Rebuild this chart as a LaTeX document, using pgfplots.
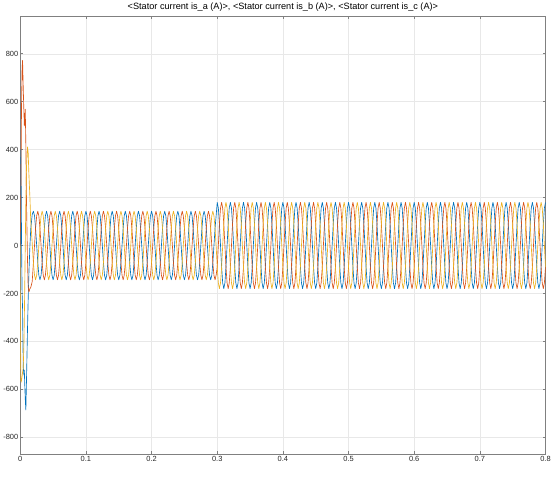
\documentclass[border=0pt]{standalone}
\usepackage{fontspec}
\setmainfont{Liberation Sans}
\usepackage{pgfplots}
\usepackage{pgfplotstable}
\pgfplotsset{compat=1.18}
\definecolor{mblue}{rgb}{0,0.447,0.741}
\definecolor{mred}{rgb}{0.851,0.325,0.098}
\definecolor{myellow}{rgb}{0.929,0.694,0.125}
\pgfplotstableread{
t a b c
0.0000 0 0 0
0.0005 300 120 -420
0.0010 400 250 -560
0.0015 200 450 -570
0.0020 0 600 -560
0.0028 -200 740 -545
0.0035 -260 772 -530
0.0045 -505 660 -510
0.0055 -540 560 -420
0.0062 -520 499 -300
0.0066 -560 510 -220
0.0076 -640 569 0
0.0085 -686 420 180
0.0095 -560 180 330
0.0110 -350 -60 411
0.0120 -230 -170 390
0.0131 -120 -194 300
0.0147 0 -180 200
0.0160 70 -175 100
0.0182 130 -150 10
0.0200 143 -72 -72
0.0217 124 0 -124
0.0233 72 72 -143
0.0250 0 124 -124
0.0267 -72 143 -72
0.0283 -124 124 0
0.0300 -143 72 72
0.0317 -124 0 124
0.0333 -72 -72 143
0.0350 0 -124 124
0.0367 72 -143 72
0.0383 124 -124 0
0.0400 143 -72 -72
0.0417 124 0 -124
0.0433 72 72 -143
0.0450 0 124 -124
0.0467 -72 143 -72
0.0483 -124 124 0
0.0500 -143 72 72
0.0517 -124 0 124
0.0533 -72 -72 143
0.0550 0 -124 124
0.0567 72 -143 72
0.0583 124 -124 0
0.0600 143 -72 -72
0.0617 124 0 -124
0.0633 72 72 -143
0.0650 0 124 -124
0.0667 -72 143 -72
0.0683 -124 124 0
0.0700 -143 72 72
0.0717 -124 0 124
0.0733 -72 -72 143
0.0750 0 -124 124
0.0767 72 -143 72
0.0783 124 -124 0
0.0800 143 -72 -72
0.0817 124 0 -124
0.0833 72 72 -143
0.0850 0 124 -124
0.0867 -72 143 -72
0.0883 -124 124 0
0.0900 -143 72 72
0.0917 -124 0 124
0.0933 -72 -72 143
0.0950 0 -124 124
0.0967 72 -143 72
0.0983 124 -124 0
0.1000 143 -72 -72
0.1017 124 0 -124
0.1033 72 72 -143
0.1050 0 124 -124
0.1067 -72 143 -72
0.1083 -124 124 0
0.1100 -143 72 72
0.1117 -124 0 124
0.1133 -72 -72 143
0.1150 0 -124 124
0.1167 72 -143 72
0.1183 124 -124 0
0.1200 143 -72 -72
0.1217 124 0 -124
0.1233 72 72 -143
0.1250 0 124 -124
0.1267 -72 143 -72
0.1283 -124 124 0
0.1300 -143 72 72
0.1317 -124 0 124
0.1333 -72 -72 143
0.1350 0 -124 124
0.1367 72 -143 72
0.1383 124 -124 0
0.1400 143 -72 -72
0.1417 124 0 -124
0.1433 72 72 -143
0.1450 0 124 -124
0.1467 -72 143 -72
0.1483 -124 124 0
0.1500 -143 72 72
0.1517 -124 0 124
0.1533 -72 -72 143
0.1550 0 -124 124
0.1567 72 -143 72
0.1583 124 -124 0
0.1600 143 -72 -72
0.1617 124 0 -124
0.1633 72 72 -143
0.1650 0 124 -124
0.1667 -72 143 -72
0.1683 -124 124 0
0.1700 -143 72 72
0.1717 -124 0 124
0.1733 -72 -72 143
0.1750 0 -124 124
0.1767 72 -143 72
0.1783 124 -124 0
0.1800 143 -72 -72
0.1817 124 0 -124
0.1833 72 72 -143
0.1850 0 124 -124
0.1867 -72 143 -72
0.1883 -124 124 0
0.1900 -143 72 72
0.1917 -124 0 124
0.1933 -72 -72 143
0.1950 0 -124 124
0.1967 72 -143 72
0.1983 124 -124 0
0.2000 143 -72 -72
0.2017 124 0 -124
0.2033 72 72 -143
0.2050 0 124 -124
0.2067 -72 143 -72
0.2083 -124 124 0
0.2100 -143 72 72
0.2117 -124 0 124
0.2133 -72 -72 143
0.2150 0 -124 124
0.2167 72 -143 72
0.2183 124 -124 0
0.2200 143 -72 -72
0.2217 124 0 -124
0.2233 72 72 -143
0.2250 0 124 -124
0.2267 -72 143 -72
0.2283 -124 124 0
0.2300 -143 72 72
0.2317 -124 0 124
0.2333 -72 -72 143
0.2350 0 -124 124
0.2367 72 -143 72
0.2383 124 -124 0
0.2400 143 -72 -72
0.2417 124 0 -124
0.2433 72 72 -143
0.2450 0 124 -124
0.2467 -72 143 -72
0.2483 -124 124 0
0.2500 -143 72 72
0.2517 -124 0 124
0.2533 -72 -72 143
0.2550 0 -124 124
0.2567 72 -143 72
0.2583 124 -124 0
0.2600 143 -72 -72
0.2617 124 0 -124
0.2633 72 72 -143
0.2650 0 124 -124
0.2667 -72 143 -72
0.2683 -124 124 0
0.2700 -143 72 72
0.2717 -124 0 124
0.2733 -72 -72 143
0.2750 0 -124 124
0.2767 72 -143 72
0.2783 124 -124 0
0.2800 143 -72 -72
0.2817 124 0 -124
0.2833 72 72 -143
0.2850 0 124 -124
0.2867 -72 143 -72
0.2883 -124 124 0
0.2900 -143 72 72
0.2917 -124 0 124
0.2933 -72 -72 143
0.2950 0 -124 124
0.2967 72 -143 72
0.2983 124 -124 0
0.3000 180 -90 -90
0.3017 156 0 -156
0.3033 90 90 -180
0.3050 0 156 -156
0.3067 -90 180 -90
0.3083 -156 156 0
0.3100 -180 90 90
0.3117 -156 0 156
0.3133 -90 -90 180
0.3150 0 -156 156
0.3167 90 -180 90
0.3183 156 -156 0
0.3200 180 -90 -90
0.3217 156 0 -156
0.3233 90 90 -180
0.3250 0 156 -156
0.3267 -90 180 -90
0.3283 -156 156 0
0.3300 -180 90 90
0.3317 -156 0 156
0.3333 -90 -90 180
0.3350 0 -156 156
0.3367 90 -180 90
0.3383 156 -156 0
0.3400 180 -90 -90
0.3417 156 0 -156
0.3433 90 90 -180
0.3450 0 156 -156
0.3467 -90 180 -90
0.3483 -156 156 0
0.3500 -180 90 90
0.3517 -156 0 156
0.3533 -90 -90 180
0.3550 0 -156 156
0.3567 90 -180 90
0.3583 156 -156 0
0.3600 180 -90 -90
0.3617 156 0 -156
0.3633 90 90 -180
0.3650 0 156 -156
0.3667 -90 180 -90
0.3683 -156 156 0
0.3700 -180 90 90
0.3717 -156 0 156
0.3733 -90 -90 180
0.3750 0 -156 156
0.3767 90 -180 90
0.3783 156 -156 0
0.3800 180 -90 -90
0.3817 156 0 -156
0.3833 90 90 -180
0.3850 0 156 -156
0.3867 -90 180 -90
0.3883 -156 156 0
0.3900 -180 90 90
0.3917 -156 0 156
0.3933 -90 -90 180
0.3950 0 -156 156
0.3967 90 -180 90
0.3983 156 -156 0
0.4000 180 -90 -90
0.4017 156 0 -156
0.4033 90 90 -180
0.4050 0 156 -156
0.4067 -90 180 -90
0.4083 -156 156 0
0.4100 -180 90 90
0.4117 -156 0 156
0.4133 -90 -90 180
0.4150 0 -156 156
0.4167 90 -180 90
0.4183 156 -156 0
0.4200 180 -90 -90
0.4217 156 0 -156
0.4233 90 90 -180
0.4250 0 156 -156
0.4267 -90 180 -90
0.4283 -156 156 0
0.4300 -180 90 90
0.4317 -156 0 156
0.4333 -90 -90 180
0.4350 0 -156 156
0.4367 90 -180 90
0.4383 156 -156 0
0.4400 180 -90 -90
0.4417 156 0 -156
0.4433 90 90 -180
0.4450 0 156 -156
0.4467 -90 180 -90
0.4483 -156 156 0
0.4500 -180 90 90
0.4517 -156 0 156
0.4533 -90 -90 180
0.4550 0 -156 156
0.4567 90 -180 90
0.4583 156 -156 0
0.4600 180 -90 -90
0.4617 156 0 -156
0.4633 90 90 -180
0.4650 0 156 -156
0.4667 -90 180 -90
0.4683 -156 156 0
0.4700 -180 90 90
0.4717 -156 0 156
0.4733 -90 -90 180
0.4750 0 -156 156
0.4767 90 -180 90
0.4783 156 -156 0
0.4800 180 -90 -90
0.4817 156 0 -156
0.4833 90 90 -180
0.4850 0 156 -156
0.4867 -90 180 -90
0.4883 -156 156 0
0.4900 -180 90 90
0.4917 -156 0 156
0.4933 -90 -90 180
0.4950 0 -156 156
0.4967 90 -180 90
0.4983 156 -156 0
0.5000 180 -90 -90
0.5017 156 0 -156
0.5033 90 90 -180
0.5050 0 156 -156
0.5067 -90 180 -90
0.5083 -156 156 0
0.5100 -180 90 90
0.5117 -156 0 156
0.5133 -90 -90 180
0.5150 0 -156 156
0.5167 90 -180 90
0.5183 156 -156 0
0.5200 180 -90 -90
0.5217 156 0 -156
0.5233 90 90 -180
0.5250 0 156 -156
0.5267 -90 180 -90
0.5283 -156 156 0
0.5300 -180 90 90
0.5317 -156 0 156
0.5333 -90 -90 180
0.5350 0 -156 156
0.5367 90 -180 90
0.5383 156 -156 0
0.5400 180 -90 -90
0.5417 156 0 -156
0.5433 90 90 -180
0.5450 0 156 -156
0.5467 -90 180 -90
0.5483 -156 156 0
0.5500 -180 90 90
0.5517 -156 0 156
0.5533 -90 -90 180
0.5550 0 -156 156
0.5567 90 -180 90
0.5583 156 -156 0
0.5600 180 -90 -90
0.5617 156 0 -156
0.5633 90 90 -180
0.5650 0 156 -156
0.5667 -90 180 -90
0.5683 -156 156 0
0.5700 -180 90 90
0.5717 -156 0 156
0.5733 -90 -90 180
0.5750 0 -156 156
0.5767 90 -180 90
0.5783 156 -156 0
0.5800 180 -90 -90
0.5817 156 0 -156
0.5833 90 90 -180
0.5850 0 156 -156
0.5867 -90 180 -90
0.5883 -156 156 0
0.5900 -180 90 90
0.5917 -156 0 156
0.5933 -90 -90 180
0.5950 0 -156 156
0.5967 90 -180 90
0.5983 156 -156 0
0.6000 180 -90 -90
0.6017 156 0 -156
0.6033 90 90 -180
0.6050 0 156 -156
0.6067 -90 180 -90
0.6083 -156 156 0
0.6100 -180 90 90
0.6117 -156 0 156
0.6133 -90 -90 180
0.6150 0 -156 156
0.6167 90 -180 90
0.6183 156 -156 0
0.6200 180 -90 -90
0.6217 156 0 -156
0.6233 90 90 -180
0.6250 0 156 -156
0.6267 -90 180 -90
0.6283 -156 156 0
0.6300 -180 90 90
0.6317 -156 0 156
0.6333 -90 -90 180
0.6350 0 -156 156
0.6367 90 -180 90
0.6383 156 -156 0
0.6400 180 -90 -90
0.6417 156 0 -156
0.6433 90 90 -180
0.6450 0 156 -156
0.6467 -90 180 -90
0.6483 -156 156 0
0.6500 -180 90 90
0.6517 -156 0 156
0.6533 -90 -90 180
0.6550 0 -156 156
0.6567 90 -180 90
0.6583 156 -156 0
0.6600 180 -90 -90
0.6617 156 0 -156
0.6633 90 90 -180
0.6650 0 156 -156
0.6667 -90 180 -90
0.6683 -156 156 0
0.6700 -180 90 90
0.6717 -156 0 156
0.6733 -90 -90 180
0.6750 0 -156 156
0.6767 90 -180 90
0.6783 156 -156 0
0.6800 180 -90 -90
0.6817 156 0 -156
0.6833 90 90 -180
0.6850 0 156 -156
0.6867 -90 180 -90
0.6883 -156 156 0
0.6900 -180 90 90
0.6917 -156 0 156
0.6933 -90 -90 180
0.6950 0 -156 156
0.6967 90 -180 90
0.6983 156 -156 0
0.7000 180 -90 -90
0.7017 156 0 -156
0.7033 90 90 -180
0.7050 0 156 -156
0.7067 -90 180 -90
0.7083 -156 156 0
0.7100 -180 90 90
0.7117 -156 0 156
0.7133 -90 -90 180
0.7150 0 -156 156
0.7167 90 -180 90
0.7183 156 -156 0
0.7200 180 -90 -90
0.7217 156 0 -156
0.7233 90 90 -180
0.7250 0 156 -156
0.7267 -90 180 -90
0.7283 -156 156 0
0.7300 -180 90 90
0.7317 -156 0 156
0.7333 -90 -90 180
0.7350 0 -156 156
0.7367 90 -180 90
0.7383 156 -156 0
0.7400 180 -90 -90
0.7417 156 0 -156
0.7433 90 90 -180
0.7450 0 156 -156
0.7467 -90 180 -90
0.7483 -156 156 0
0.7500 -180 90 90
0.7517 -156 0 156
0.7533 -90 -90 180
0.7550 0 -156 156
0.7567 90 -180 90
0.7583 156 -156 0
0.7600 180 -90 -90
0.7617 156 0 -156
0.7633 90 90 -180
0.7650 0 156 -156
0.7667 -90 180 -90
0.7683 -156 156 0
0.7700 -180 90 90
0.7717 -156 0 156
0.7733 -90 -90 180
0.7750 0 -156 156
0.7767 90 -180 90
0.7783 156 -156 0
0.7800 180 -90 -90
0.7817 156 0 -156
0.7833 90 90 -180
0.7850 0 156 -156
0.7867 -90 180 -90
0.7883 -156 156 0
0.7900 -180 90 90
0.7917 -156 0 156
0.7933 -90 -90 180
0.7950 0 -156 156
0.7967 90 -180 90
0.7983 156 -156 0
0.8000 180 -90 -90
}\data
\begin{document}
\begin{tikzpicture}
\begin{axis}[
  scale only axis, width=528pt, height=440pt,
  xmin=0, xmax=0.8, ymin=-870, ymax=956,
  xtick={0,0.1,0.2,0.3,0.4,0.5,0.6,0.7,0.8},
  ytick={-800,-600,-400,-200,0,200,400,600,800},
  scaled x ticks=false,
  xticklabel style={/pgf/number format/fixed},
  /pgf/number format/assume math mode=true,
  grid=major, grid style={color=black!9, line width=0.4pt},
  axis line style={color=black!50, line width=0.6pt},
  tick style={color=black!50, line width=0.5pt},
  major tick length=3pt,
  tick label style={font=\fontsize{7.5}{8.5}\selectfont, color=black!85},
  xticklabel style={yshift=1pt},
  yticklabel style={xshift=1.5pt},
  title={<Stator current is\_a (A)>, <Stator current is\_b (A)>, <Stator current is\_c (A)>},
  title style={font=\fontsize{9.2}{10}\selectfont, yshift=-5pt},
  every axis plot/.append style={line width=0.65pt, line join=round},
  clip mode=individual,
]
\addplot[mblue] table[x=t, y=a]{\data};
\addplot[mred] table[x=t, y=b]{\data};
\addplot[myellow] table[x=t, y=c]{\data};
\end{axis}
\path ([yshift=-26pt]current axis.south);
\end{tikzpicture}
\end{document}
